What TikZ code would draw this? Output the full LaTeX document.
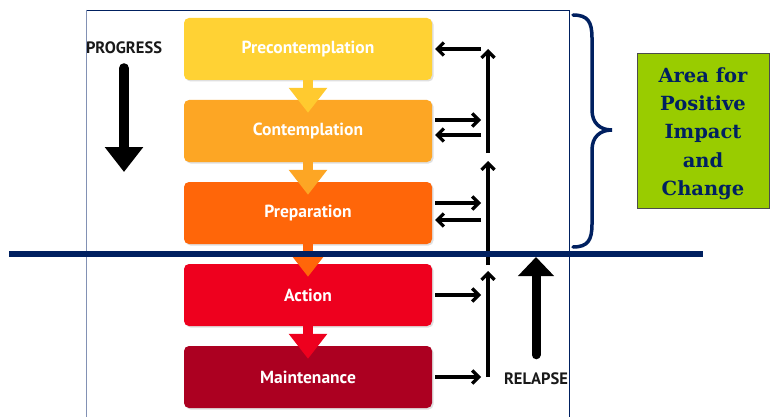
\documentclass[tikz,border=0pt]{standalone}
\usepackage{fontspec}
\newfontfamily\ptsans{PT Sans}
\newfontfamily\dvserif{DejaVu Serif}
\usetikzlibrary{arrows.meta,calc,shadows}
\definecolor{navy}{RGB}{0,32,96}
\definecolor{framegray}{RGB}{130,145,180}
\definecolor{cpre}{RGB}{255,210,52}
\definecolor{ccon}{RGB}{253,166,36}
\definecolor{cprep}{RGB}{255,102,9}
\definecolor{cact}{RGB}{238,0,30}
\definecolor{cmain}{RGB}{172,0,33}
\definecolor{areagreen}{RGB}{153,204,0}
\tikzset{
  stagebox/.style={rectangle, rounded corners=5pt, minimum width=248pt, minimum height=62pt,
    inner sep=0pt, text=white, font=\ptsans\bfseries\fontsize{17.5}{20}\selectfont,
    drop shadow={shadow xshift=1.5pt, shadow yshift=-1.5pt, opacity=0.25}},
  stagearrow/.style={line width=10pt, -{Triangle[length=25pt,width=37pt]}},
  thinarrow/.style={line width=3.2pt, -{Straight Barb[length=6.5pt,width=13pt]}},
  bigarrow/.style={line width=10pt, line cap=round, -{Triangle[length=25pt,width=37pt]}},
  labeltext/.style={font=\ptsans\bfseries\fontsize{16.5}{18}\selectfont, text=black!90, inner sep=0pt},
  greenbox/.style={rectangle, fill=areagreen, draw=black!70, line width=0.6pt,
    minimum width=132pt, minimum height=155pt},
  greentext/.style={align=center, text=navy, inner sep=0pt,
    font=\dvserif\bfseries\fontsize{19.5}{28.3}\selectfont}
}
\begin{document}
\begin{tikzpicture}[x=1pt,y=-1pt]
\useasboundingbox (0,0) rectangle (770,417);
\fill[white] (0,0) rectangle (770,417);

% frame
\draw[navy, line width=0.8pt] (86,10) -- (569,10) -- (569,418);
\draw[framegray, line width=1pt] (86,10) -- (86,418);

% stage boxes
\node[stagebox, fill=cpre]  (pre)  at (308,49)  {Precontemplation};
\node[stagebox, fill=ccon]  (con)  at (308,131) {Contemplation};
\node[stagebox, fill=cprep] (prep) at (308,213) {Preparation};
\node[stagebox, fill=cact]  (act)  at (308,295) {Action};
\node[stagebox, fill=cmain] (main) at (308,377) {Maintenance};

% arrows between stages
\draw[stagearrow, draw=cpre!90!orange, fill=cpre!90!orange]   (pre.south)  -- ($(con.north)+(0,13)$);
\draw[stagearrow, draw=ccon, fill=ccon]   (con.south)  -- ($(prep.north)+(0,13)$);
\draw[stagearrow, draw=cprep, fill=cprep] (prep.south) -- ($(act.north)+(0,13)$);
\draw[stagearrow, draw=cact, fill=cact]   (act.south)  -- ($(main.north)+(0,13)$);

% right column coordinates
\coordinate (v1top) at (488,49);
\coordinate (v1bot) at (488,153);
\coordinate (v2top) at (488,161);
\coordinate (v2bot) at (488,265);
\coordinate (v3top) at (488,271);
\coordinate (v3bot) at (488,377);
\coordinate (rpre)  at (481,49);
\coordinate (rcon1) at (481,120);
\coordinate (rcon2) at (481,135);
\coordinate (rprep1) at (481,203);
\coordinate (rprep2) at (481,220);
\coordinate (ract)  at (481,295);
\coordinate (rmain) at (481,377);

\draw[thinarrow] (v1bot) -- (v1top);
\draw[thinarrow] (v2bot) -- (v2top);
\draw[thinarrow] (v3bot) -- (v3top);

\draw[thinarrow] (rpre) -- ($(pre.east)+(3,0)$);
\draw[thinarrow] ($(con.east)+(3,-11)$) -- (rcon1);
\draw[thinarrow] (rcon2) -- ($(con.east)+(3,4)$);
\draw[thinarrow] ($(prep.east)+(3,-10)$) -- (rprep1);
\draw[thinarrow] (rprep2) -- ($(prep.east)+(3,7)$);
\draw[thinarrow] ($(act.east)+(3,0)$) -- (ract);
\draw[thinarrow] ($(main.east)+(3,0)$) -- (rmain);

% progress
\node[labeltext] (progress) at (124,48) {PROGRESS};
\coordinate (ptip) at (124,172);
\draw[bigarrow] ($(progress.south)+(0,14)$) -- (ptip);

% relapse
\node[labeltext] (relapse) at (536,379) {RELAPSE};
\coordinate (rtip) at (536,257);
\draw[bigarrow, line width=9pt, -{Triangle[length=19pt,width=35pt]}] ($(relapse.north)+(0,-18)$) -- (rtip);

% brace
\draw[navy, line width=3.5pt, line cap=round]
  (573,15) .. controls (588,15) and (592,22) .. (592,38) -- (592,110)
  .. controls (592,123) and (600,130) .. (612,130)
  .. controls (600,130) and (592,137) .. (592,150) -- (592,224)
  .. controls (592,240) and (588,247) .. (573,247);

% area box
\node[greenbox] (area) at (703,130.5) {};
\node[greentext] (areatext) at (703,133.5) {Area for\\Positive\\Impact\\and\\Change};

% navy horizontal line
\draw[navy, line width=6pt] (9,254) -- (703,254);
\end{tikzpicture}
\end{document}
